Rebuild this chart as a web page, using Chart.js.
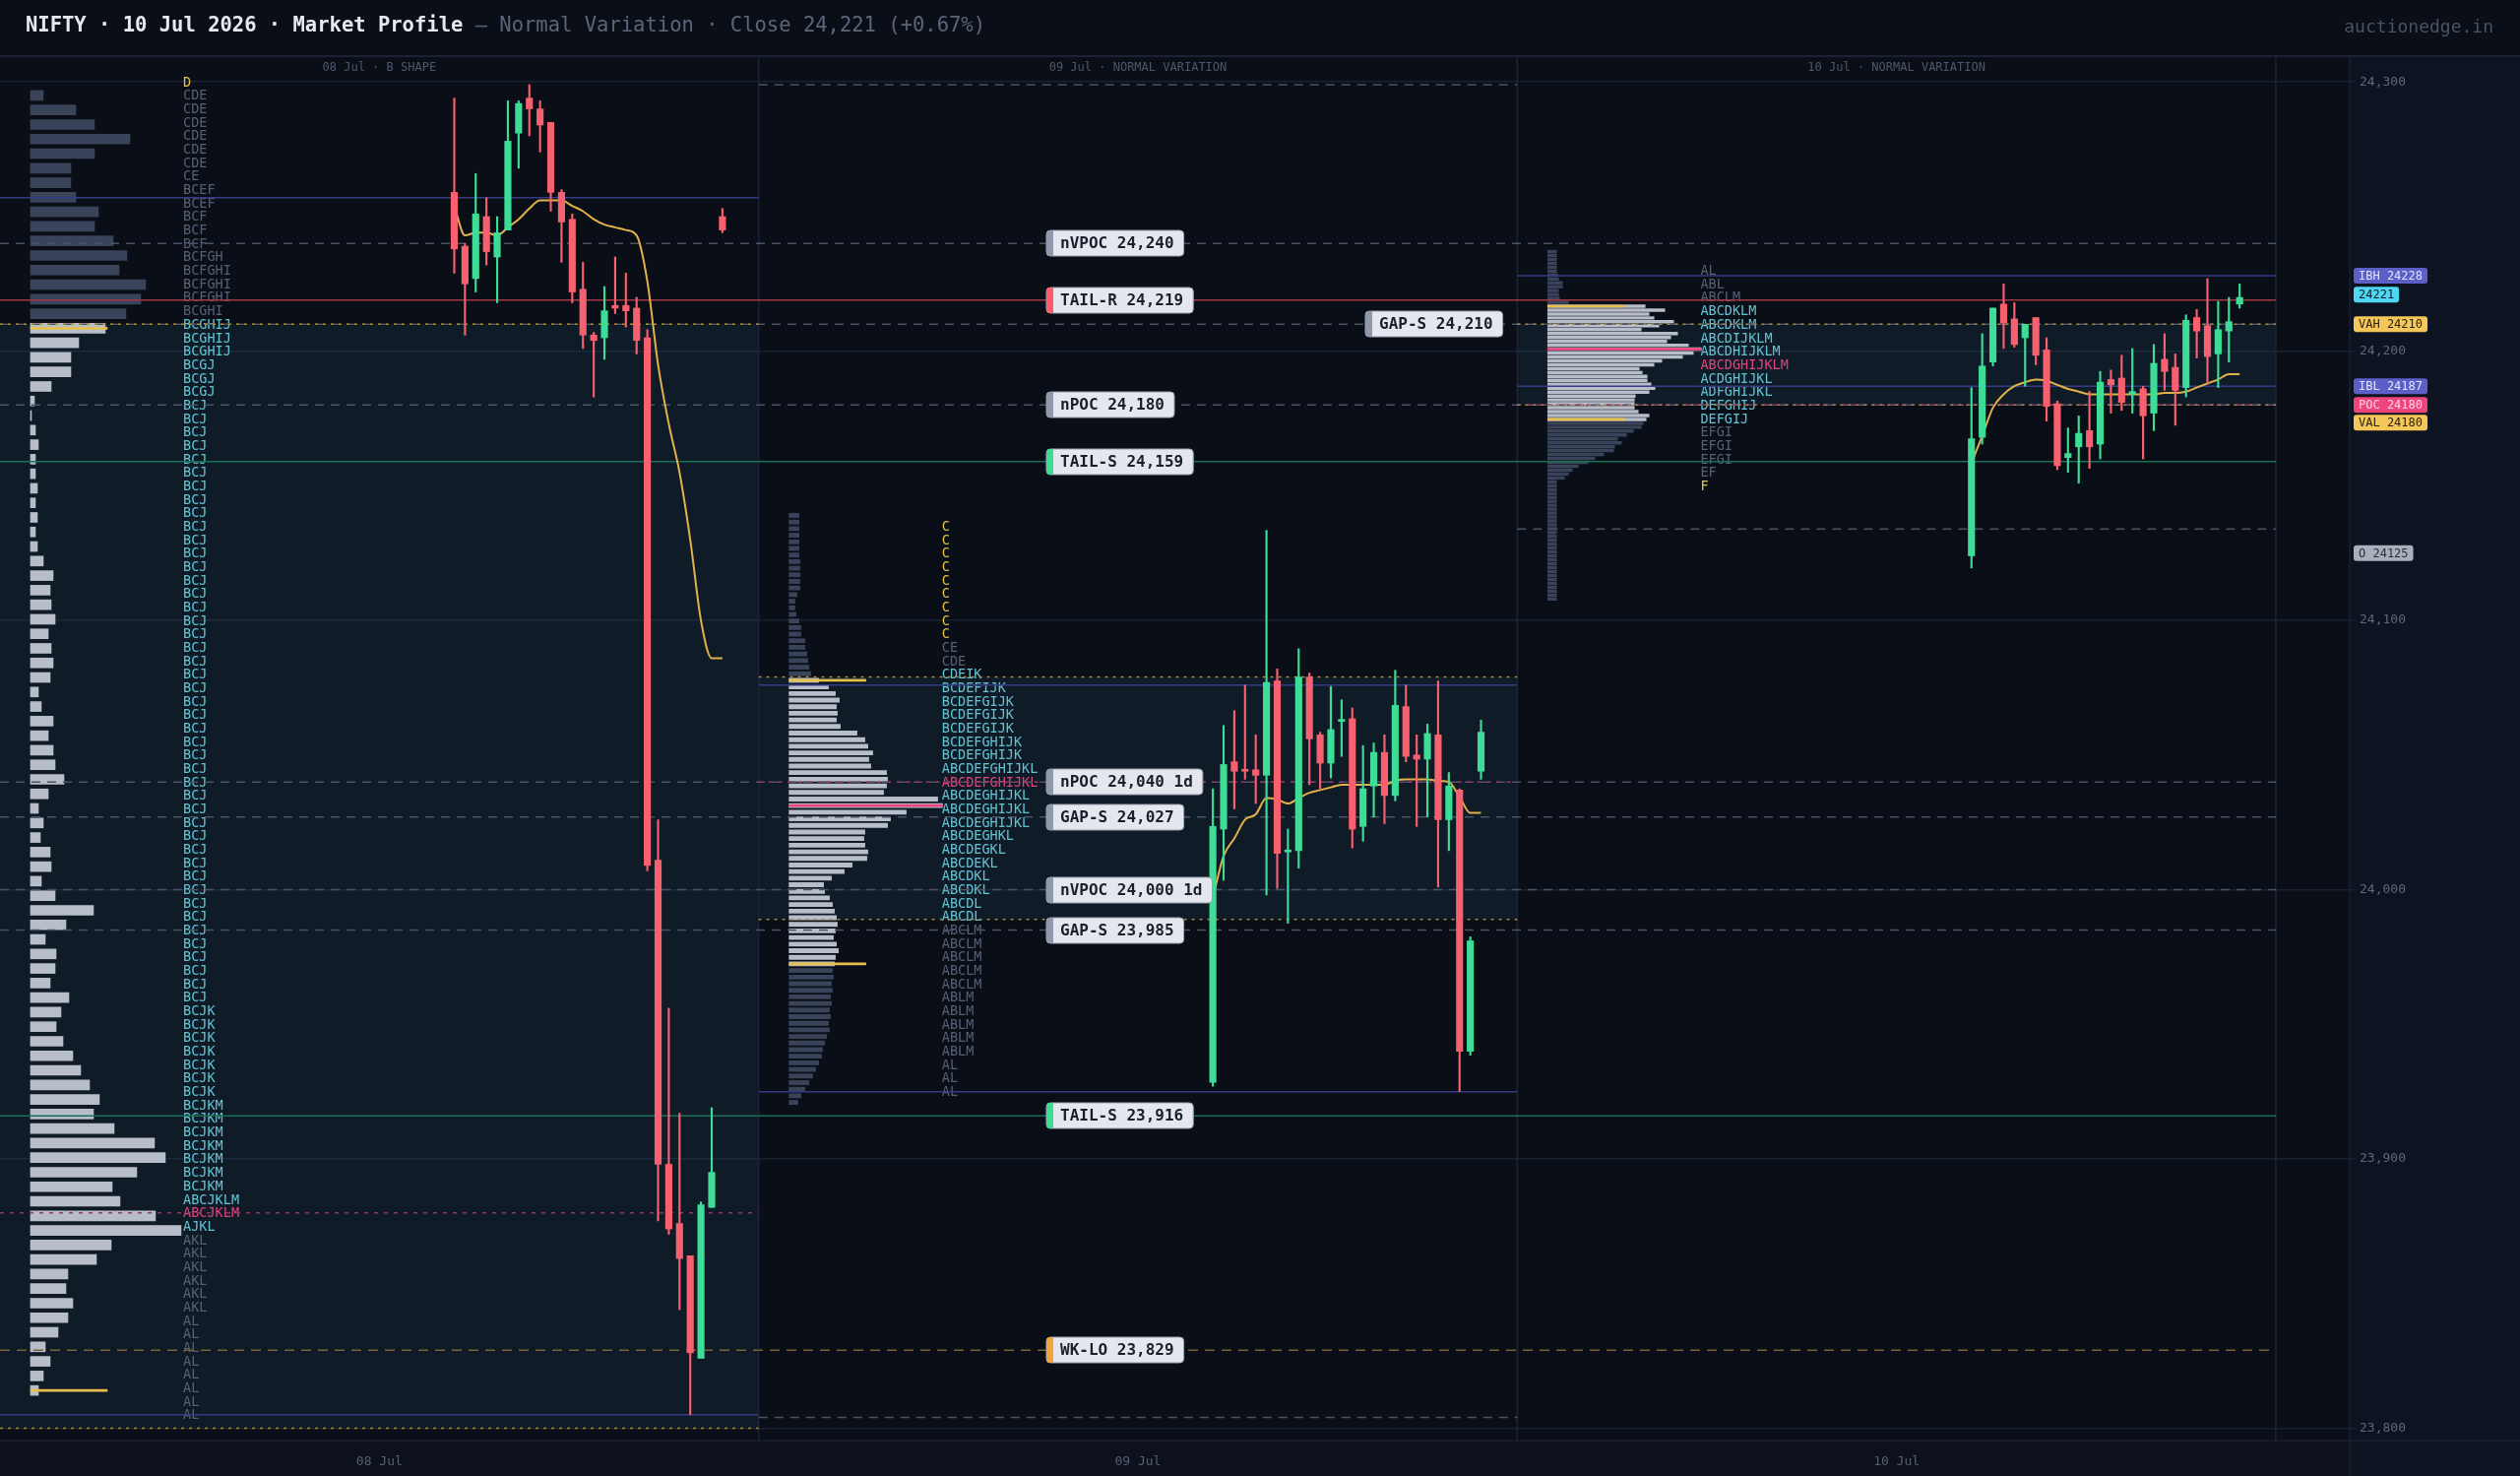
<!DOCTYPE html>
<html>
<head>
<meta charset="utf-8">
<title>NIFTY Market Profile</title>
<script src="https://cdn.jsdelivr.net/npm/chart.js@4.4.1/dist/chart.umd.min.js"></script>
<style>
  html, body { margin: 0; padding: 0; background: #0a0e17; }
  canvas { display: block; }
</style>
</head>
<body>
<canvas id="profileChart" width="2560" height="1499"></canvas>
<script>
const MONO = '"DejaVu Sans Mono", "Liberation Mono", monospace';

// ---------- data ----------
const dayLabels = ['08 Jul', '09 Jul', '10 Jul'];
const dayShapes = ['B SHAPE', 'NORMAL VARIATION', 'NORMAL VARIATION'];
const yTicks = [23800, 23900, 24000, 24100, 24200, 24300];

// TPO letter rows, 5 pts per row, top row first: [letters, repeat]
const tpoTop = [24300, 24135, 24230];
const tpo1 = [['D', 1], ['CDE', 6], ['CE', 1], ['BCEF', 2], ['BCF', 3], ['BCFGH', 1], ['BCFGHI', 3], ['BCGHI', 1],
  ['BCGHIJ', 3], ['BCGJ', 3], ['BCJ', 45], ['BCJK', 7], ['BCJKM', 7], ['ABCJKLM', 2], ['AJKL', 1], ['AKL', 6], ['AL', 8]];
const tpo2 = [['C', 9], ['CE', 1], ['CDE', 1], ['CDEIK', 1], ['BCDEFIJK', 1], ['BCDEFGIJK', 3], ['BCDEFGHIJK', 2],
  ['ABCDEFGHIJKL', 2], ['ABCDEGHIJKL', 3], ['ABCDEGHKL', 1], ['ABCDEGKL', 1], ['ABCDEKL', 1], ['ABCDKL', 2],
  ['ABCDL', 2], ['ABCLM', 5], ['ABLM', 5], ['AL', 3]];
const tpo3 = [['AL', 1], ['ABL', 1], ['ABCLM', 1], ['ABCDKLM', 2], ['ABCDIJKLM', 1], ['ABCDHIJKLM', 1],
  ['ABCDGHIJKLM', 1], ['ACDGHIJKL', 1], ['ADFGHIJKL', 1], ['DEFGHIJ', 1], ['DEFGIJ', 1], ['EFGI', 3], ['EF', 1], ['F', 1]];
const tpoPocRow = [23880, 24040, 24195];
const tpoValueArea = [[23875, 24210], [23990, 24080], [24175, 24215]];

// volume profile bins (top bin first)
const vol1 = [13, 46, 65, 101, 65, 41, 41, 46, 69, 65, 84, 98, 90, 117, 112, 97, 76, 49, 41, 41, 21, 4, 1, 5, 8,
  5, 5, 7, 5, 7, 5, 7, 13, 23, 20, 21, 25, 18, 21, 23, 20, 8, 11, 23, 18, 23, 25, 34, 18, 8, 13,
  10, 20, 21, 11, 25, 64, 36, 15, 26, 25, 20, 39, 31, 26, 33, 43, 51, 60, 70, 64,
  85, 126, 137, 108, 83, 91, 127, 153, 82, 67, 38, 36, 43, 38, 28, 15, 20, 13, 8];
const vol2 = [10, 10, 10, 10, 10, 10, 10, 11, 11, 11, 11, 11, 8, 6, 6, 7, 10, 12, 12, 16, 16, 18, 19, 20, 22,
  30, 40, 47, 51, 48, 49, 48, 52, 69, 77, 80, 85, 81, 83, 99, 100, 99, 96, 151, 156, 119, 103, 100,
  77, 76, 77, 80, 79, 64, 56, 43, 35, 36, 41,
  44, 46, 48, 49, 47, 45, 48, 50, 47, 46, 44, 45, 43, 44, 42, 43, 41, 42, 40, 41, 38, 36, 34, 33, 30, 27, 24, 20, 16, 12, 9];
const vol3 = [9, 9, 9, 9, 9, 9, 10, 11, 15, 15, 11, 11, 12, 21, 99, 119, 103, 108, 128, 113, 95, 132, 125, 121, 143,
  156, 148, 137, 116, 108, 93, 96, 101, 101, 105, 109, 103, 89, 88, 88, 88, 92, 103, 100, 97, 95, 87, 80, 71, 75,
  68, 67, 57, 48, 41, 31, 25, 21, 17, 9, 9, 9, 9, 9, 9, 9, 9, 9, 9, 9, 9, 9, 9, 9, 9, 9, 9, 9, 9, 9, 9, 9, 9, 9, 9, 9, 9, 9, 9, 9];
const volTop = [24295, 24139, 24237];
const volBottom = [23814, 23921, 24108];
const volValueBins = [[16, 89], [25, 68], [14, 43]];
const volPocBin = [null, 44, 25];

// 30-min candles
const open1 = [24259, 24239, 24227, 24250, 24235, 24245, 24281, 24294, 24290, 24285, 24259, 24249, 24223, 24206, 24205, 24217, 24217, 24216, 24205, 24011, 23898, 23876, 23864, 23826, 23882, 24250];
const high1 = [24294, 24240, 24266, 24257, 24250, 24293, 24293, 24299, 24293, 24285, 24260, 24251, 24233, 24207, 24224, 24235, 24229, 24220, 24208, 24026, 23956, 23917, 23864, 23884, 23919, 24253];
const low1 = [24229, 24206, 24222, 24232, 24218, 24245, 24268, 24280, 24274, 24252, 24233, 24218, 24201, 24183, 24197, 24214, 24209, 24199, 24007, 23877, 23872, 23844, 23805, 23826, 23882, 24244];
const close1 = [24238, 24225, 24251, 24237, 24244, 24278, 24292, 24290, 24284, 24259, 24248, 24222, 24206, 24204, 24215, 24216, 24215, 24204, 24009, 23898, 23874, 23863, 23828, 23883, 23895, 24245];

const open2 = [23928.5, 24022.5, 24047.5, 24044.5, 24044.5, 24042.5, 24077.5, 24014, 24014.5, 24079, 24057.5, 24047, 24062.5, 24063.5, 24023.5, 24038.5, 24051, 24035, 24068, 24050, 24048.5, 24057.5, 24026, 24037, 23940, 24044];
const high2 = [24037.5, 24061, 24066.5, 24076, 24057.5, 24133.5, 24082, 24022.5, 24089.5, 24080.5, 24058.5, 24075.5, 24070.5, 24067.5, 24053.5, 24054.5, 24057.5, 24081.5, 24076, 24057.5, 24061.5, 24077.5, 24043.5, 24037.5, 23982.5, 24063];
const low2 = [23927, 24003.5, 24030, 24041, 24032, 23998, 24000.5, 23987.5, 24008, 24039, 24037.5, 24041.5, 24049.5, 24015.5, 24018, 24027, 24024.5, 24033, 24047.5, 24023.5, 24027, 24001, 24014.5, 23925, 23938.5, 24041];
const close2 = [24023.5, 24046.5, 24044, 24044, 24042.5, 24077, 24013.5, 24014.5, 24079, 24056, 24047, 24059.5, 24063, 24022.5, 24037.5, 24051, 24035, 24068.5, 24049.5, 24048.5, 24058, 24026, 24038.5, 23940, 23981, 24058.5];

const open3 = [24124, 24168, 24196, 24217.5, 24212, 24205, 24212.5, 24200.5, 24180.5, 24160.5, 24164.5, 24170.5, 24165.5, 24189.5, 24190, 24184, 24186, 24177, 24197, 24194, 24186.5, 24212.5, 24209.5, 24199, 24207.5, 24217.5];
const high3 = [24186.5, 24206.5, 24216, 24225, 24218, 24210, 24212.5, 24205, 24181.5, 24171.5, 24176, 24185, 24192.5, 24193, 24198.5, 24201, 24187, 24202.5, 24206.5, 24199, 24213.5, 24215.5, 24227, 24218.5, 24220, 24225];
const low3 = [24119.5, 24165.5, 24194.5, 24201, 24201.5, 24187, 24195, 24174, 24156, 24155, 24151, 24156.5, 24160, 24177, 24178, 24177, 24160, 24170.5, 24185.5, 24172.5, 24183, 24197.5, 24188, 24186.5, 24196, 24216];
const close3 = [24167.5, 24194.5, 24216, 24210.5, 24202.5, 24210, 24198.5, 24179.5, 24157.5, 24162, 24169.5, 24164.5, 24188.5, 24187.5, 24181, 24185, 24176, 24195.5, 24192.5, 24185.5, 24211.5, 24207.5, 24198, 24208, 24211, 24220];

const vwap1 = [24254, 24243, 24244, 24244, 24243, 24246, 24249, 24253, 24256, 24256, 24256, 24254, 24252, 24249, 24247, 24246, 24245, 24243, 24226, 24195, 24173, 24155, 24130, 24100, 24086, 24086];
const vwap2 = [23997, 24012.5, 24019, 24026, 24028, 24034, 24033.5, 24032, 24034, 24036, 24037, 24038, 24039, 24039, 24039, 24039, 24039, 24040.5, 24041, 24041, 24041, 24040.5, 24040, 24034.5, 24028.5, 24028.5];
const vwap3 = [24158.5, 24168.5, 24179, 24184, 24187, 24188.5, 24189.5, 24189, 24187.5, 24186, 24185, 24184, 24184, 24184, 24184, 24184, 24184, 24184, 24184.5, 24184.5, 24185, 24186.5, 24188, 24189.5, 24191.5, 24191.5];

// per-day reference levels
const ibHigh = [24257, 24076, 24228];
const ibLow = [23805, 23925, 24187];
const vaHigh = [24210, 24079, 24210];
const vaLow = [23800, 23989, 24180];
const pocLevel = [23880, 24040, 24180];
const prevDayHigh = [null, 24299, 24134];
const prevDayLow = [null, 23804, null];

// naked / carried levels
const levelNames = ['nVPOC', 'TAIL-R', 'GAP-S', 'nPOC', 'TAIL-S', 'nPOC', 'GAP-S', 'nVPOC', 'GAP-S', 'TAIL-S', 'WK-LO'];
const levelPrices = [24240, 24219, 24210, 24180, 24159, 24040, 24027, 24000, 23985, 23916, 23829];
const levelAge = ['', '', '', '', '', '1d', '', '1d', '', '', ''];

// right axis tags
const tagText = ['IBH 24228', '24221', 'VAH 24210', 'IBL 24187', 'POC 24180', 'VAL 24180', 'O 24125'];
const tagPrice = [24228, 24221, 24210, 24187, 24180, 24180, 24125];
const tagKind = ['ib', 'close', 'va', 'ib', 'poc', 'va', 'open'];

// ---------- layout / style ----------
const X_MAX = 3.0974;
const Y_MIN = 23795.4, Y_MAX = 24309.6;
const PROFILE_X0 = 0.0402;
const LETTER_X = 0.2415;
const CANDLE_X0 = 0.5988, CANDLE_STEP = 0.01414;
const VOL_UNIT = 1 / 771;
const MARKER_LEN = 78 / 771;
const barPx = [10, 4.2, 2.8];

const levelStyle = {
  'nVPOC': { line: '#4a5366', dash: [9, 7], tab: '#8f99ae' },
  'nPOC': { line: '#4a5366', dash: [9, 7], tab: '#8f99ae' },
  'GAP-S': { line: '#4a5366', dash: [9, 7], tab: '#8f99ae' },
  'TAIL-R': { line: '#a23745', dash: [], tab: '#ff5d6c' },
  'TAIL-S': { line: '#1c6f57', dash: [], tab: '#3ddc97' },
  'WK-LO': { line: '#77623a', dash: [10, 7], tab: '#f2a33a' }
};
const labelAt = { 'GAP-S 24,210': 1.80 };
const tagStyle = {
  ib: { bg: '#5b5fc7', fg: '#e2e3ff' },
  close: { bg: '#4fd6f2', fg: '#0b1a22' },
  va: { bg: '#f5c75b', fg: '#2b2206' },
  poc: { bg: '#ee457c', fg: '#ffd6e2' },
  open: { bg: '#a9b0bd', fg: '#2a2f3a' }
};

const fmt = v => v.toLocaleString('en-US');

function expandRows(rle) {
  const out = [];
  rle.forEach(([s, n]) => { for (let i = 0; i < n; i++) out.push(s); });
  return out;
}
const tpoDays = [expandRows(tpo1), expandRows(tpo2), expandRows(tpo3)];

function hline(price, x0, x1, color, dash, width, order) {
  return { type: 'line', data: [{ x: x0, y: price }, { x: x1, y: price }], borderColor: color,
    borderDash: dash, borderWidth: width, pointRadius: 0, fill: false, order };
}

// ---------- datasets ----------
const datasets = [];

// value area shading
vaHigh.forEach((hi, d) => {
  datasets.push({ type: 'line', data: [{ x: d, y: hi }, { x: d + 1, y: hi }], borderWidth: 0, pointRadius: 0,
    fill: '+1', backgroundColor: 'rgba(40, 82, 112, 0.2)', order: 100 });
  datasets.push({ type: 'line', data: [{ x: d, y: vaLow[d] }, { x: d + 1, y: vaLow[d] }], borderWidth: 0,
    pointRadius: 0, fill: false, order: 100 });
});

// day separators
[1, 2, 3].forEach(x => {
  datasets.push({ type: 'line', data: [{ x, y: Y_MIN }, { x, y: Y_MAX }], borderColor: '#1d2437',
    borderWidth: 1.5, pointRadius: 0, fill: false, order: 95 });
});

// volume profile bars
[vol1, vol2, vol3].forEach((v, d) => {
  const step = (volTop[d] - volBottom[d]) / (v.length - 1);
  const x0 = d + PROFILE_X0;
  const [vaFrom, vaTo] = volValueBins[d];
  datasets.push({
    type: 'bar', indexAxis: 'y', grouped: false, barThickness: barPx[d], borderWidth: 0, order: 80,
    data: v.map((w, i) => ({ y: volTop[d] - i * step, x: [x0, x0 + w * VOL_UNIT] })),
    backgroundColor: v.map((w, i) => (i >= vaFrom && i <= vaTo) ? '#b8bec9' : '#39435a')
  });
  datasets.push({
    type: 'bar', indexAxis: 'y', grouped: false, barThickness: 2, borderWidth: 0, order: 79,
    data: [vaFrom, vaTo].map(i => ({ y: volTop[d] - i * step, x: [x0, x0 + MARKER_LEN] })),
    backgroundColor: '#e6bf4c'
  });
  if (volPocBin[d] !== null) {
    const i = volPocBin[d];
    datasets.push({
      type: 'bar', indexAxis: 'y', grouped: false, barThickness: 2, borderWidth: 0, order: 79,
      data: [{ y: volTop[d] - i * step, x: [x0, x0 + v[i] * VOL_UNIT] }],
      backgroundColor: '#e8457d'
    });
  }
});

// carried levels across the sessions
levelPrices.forEach((p, i) => {
  const st = levelStyle[levelNames[i]];
  datasets.push(hline(p, 0, 3, st.line, st.dash, 1.5, 70));
});

// per-day levels
for (let d = 0; d < 3; d++) {
  datasets.push(hline(ibHigh[d], d, d + 1, '#363b85', [], 1.5, 72));
  datasets.push(hline(ibLow[d], d, d + 1, '#363b85', [], 1.5, 72));
  datasets.push(hline(vaHigh[d], d, d + 1, '#a8883a', [3, 5], 1.5, 69));
  datasets.push(hline(vaLow[d], d, d + 1, '#a8883a', [3, 5], 1.5, 69));
  datasets.push(hline(pocLevel[d], d, d + 1, '#9a3366', [4, 6], 1.5, 69));
  if (prevDayHigh[d] !== null) datasets.push(hline(prevDayHigh[d], d, d + 1, '#4a5366', [9, 7], 1.5, 71));
  if (prevDayLow[d] !== null) datasets.push(hline(prevDayLow[d], d, d + 1, '#4a5366', [9, 7], 1.5, 71));
}

// candles + vwap
const candleDays = [
  { o: open1, h: high1, l: low1, c: close1, vwap: vwap1 },
  { o: open2, h: high2, l: low2, c: close2, vwap: vwap2 },
  { o: open3, h: high3, l: low3, c: close3, vwap: vwap3 }
];
const UP = '#3ddc97', DOWN = '#f7606f';
candleDays.forEach((cd, d) => {
  const xs = cd.o.map((_, i) => d + CANDLE_X0 + i * CANDLE_STEP);
  const cols = cd.o.map((o, i) => cd.c[i] >= o ? UP : DOWN);
  datasets.push({ type: 'line', data: cd.vwap.map((v, i) => ({ x: xs[i], y: v })), borderColor: '#e2b148',
    borderWidth: 2, pointRadius: 0, fill: false, cubicInterpolationMode: 'monotone', order: 20 });
  datasets.push({ type: 'bar', grouped: false, barThickness: 1.5, borderWidth: 0, order: 11,
    data: xs.map((x, i) => ({ x, y: [cd.l[i], cd.h[i]] })), backgroundColor: cols });
  datasets.push({ type: 'bar', grouped: false, barThickness: 6.5, borderWidth: 0, minBarLength: 2, order: 10,
    data: xs.map((x, i) => ({ x, y: [cd.o[i], cd.c[i]] })), backgroundColor: cols });
});

// ---------- plugins ----------
const panelPlugin = {
  id: 'panels',
  beforeDraw(chart) {
    const { ctx, chartArea: a, width, height } = chart;
    ctx.save();
    ctx.fillStyle = '#0a0e17';
    ctx.fillRect(0, 0, width, height);
    ctx.fillStyle = '#0e1321';
    ctx.fillRect(a.right, a.top, width - a.right, height - a.top);
    ctx.fillStyle = '#0c111b';
    ctx.fillRect(0, a.bottom, a.right, height - a.bottom);
    ctx.strokeStyle = '#1a2030';
    ctx.lineWidth = 1.5;
    ctx.beginPath();
    ctx.moveTo(0, a.bottom); ctx.lineTo(width, a.bottom);
    ctx.moveTo(a.right, a.top); ctx.lineTo(a.right, height);
    ctx.stroke();
    ctx.restore();
  }
};

function letterColor(txt, price, d) {
  if (price === tpoPocRow[d]) return '#e0457b';
  if (txt.length === 1) return '#e3c54a';
  const [lo, hi] = tpoValueArea[d];
  if (price >= lo && price <= hi) return '#62c3d3';
  return '#566075';
}

const tpoPlugin = {
  id: 'tpoLetters',
  beforeDatasetsDraw(chart) {
    const { ctx, scales: { x, y } } = chart;
    ctx.save();
    ctx.font = `13.5px ${MONO}`;
    ctx.textBaseline = 'middle';
    ctx.textAlign = 'left';
    tpoDays.forEach((rows, d) => {
      const px = x.getPixelForValue(d + LETTER_X);
      rows.forEach((txt, r) => {
        const p = tpoTop[d] - r * 5;
        ctx.fillStyle = letterColor(txt, p, d);
        ctx.fillText(txt, px, y.getPixelForValue(p) + 1);
      });
    });
    ctx.restore();
  }
};

const overlayPlugin = {
  id: 'overlay',
  afterDraw(chart) {
    const { ctx, chartArea: a, width, scales: { x, y } } = chart;
    ctx.save();

    // header rule
    ctx.strokeStyle = '#1c2234';
    ctx.lineWidth = 2;
    ctx.beginPath(); ctx.moveTo(0, a.top); ctx.lineTo(width, a.top); ctx.stroke();

    // title
    ctx.textBaseline = 'middle';
    ctx.textAlign = 'left';
    const t1 = 'NIFTY · 10 Jul 2026 · Market Profile';
    const t2 = ' — Normal Variation · Close 24,221 (+0.67%)';
    ctx.font = `bold 20.5px ${MONO}`;
    ctx.fillStyle = '#e6e9f0';
    ctx.fillText(t1, 26, 27);
    const w1 = ctx.measureText(t1).width;
    ctx.font = `20.5px ${MONO}`;
    ctx.fillStyle = '#5d6679';
    ctx.fillText(t2, 26 + w1, 27);

    ctx.textAlign = 'right';
    ctx.font = `18px ${MONO}`;
    ctx.fillStyle = '#4a5366';
    ctx.fillText('auctionedge.in', 2533, 28);

    // session headers
    ctx.textAlign = 'center';
    ctx.font = `12px ${MONO}`;
    ctx.fillStyle = '#4f586b';
    dayLabels.forEach((lab, d) => {
      ctx.fillText(`${lab} · ${dayShapes[d]}`, x.getPixelForValue(d + 0.5), 69);
    });

    // level labels
    ctx.textAlign = 'left';
    ctx.font = `bold 16px ${MONO}`;
    levelPrices.forEach((p, i) => {
      const text = `${levelNames[i]} ${fmt(p)}${levelAge[i] ? ' ' + levelAge[i] : ''}`;
      const lx = Math.round(x.getPixelForValue(labelAt[text] || 1.38));
      const ly = Math.round(y.getPixelForValue(p));
      const w = ctx.measureText(text).width + 24;
      const h = 26;
      ctx.save();
      ctx.beginPath();
      ctx.roundRect(lx, ly - h / 2, w, h, 4);
      ctx.fillStyle = '#e4e7ee';
      ctx.fill();
      ctx.strokeStyle = '#9aa2b3';
      ctx.lineWidth = 1;
      ctx.stroke();
      ctx.clip();
      ctx.fillStyle = levelStyle[levelNames[i]].tab;
      ctx.fillRect(lx, ly - h / 2, 7, h);
      ctx.restore();
      ctx.fillStyle = '#1a1f2c';
      ctx.fillText(text, lx + 14, ly + 1);
    });

    // right axis tags
    ctx.font = `12px ${MONO}`;
    const order = tagPrice.map((p, i) => i).sort((i, j) => tagPrice[j] - tagPrice[i]);
    let lastY = -Infinity;
    order.forEach(i => {
      let ty = y.getPixelForValue(tagPrice[i]);
      if (ty < lastY + 18) ty = lastY + 18;
      lastY = ty;
      const st = tagStyle[tagKind[i]];
      const w = ctx.measureText(tagText[i]).width + 10;
      ctx.beginPath();
      ctx.roundRect(a.right + 4, ty - 8, w, 16, 3);
      ctx.fillStyle = st.bg;
      ctx.fill();
      ctx.fillStyle = st.fg;
      ctx.fillText(tagText[i], a.right + 9, ty + 1);
    });

    ctx.restore();
  }
};

// ---------- chart ----------
new Chart(document.getElementById('profileChart'), {
  type: 'line',
  data: { datasets },
  options: {
    responsive: false,
    animation: false,
    devicePixelRatio: 1,
    events: [],
    layout: { padding: { top: 57, left: 0, right: 0, bottom: 0 } },
    plugins: {
      legend: { display: false },
      tooltip: { enabled: false },
      filler: { drawTime: 'beforeDatasetsDraw' }
    },
    scales: {
      x: {
        type: 'linear', min: 0, max: X_MAX, offset: false,
        grid: { display: false, offset: false },
        border: { display: false },
        afterBuildTicks: s => { s.ticks = [0.5, 1.5, 2.5].map(v => ({ value: v })); },
        afterFit: s => { s.height = 36; },
        ticks: {
          autoSkip: false, maxRotation: 0, padding: 6,
          color: '#566074', font: { family: MONO, size: 13 },
          callback: v => dayLabels[Math.floor(v)]
        }
      },
      y: {
        type: 'linear', position: 'right', min: Y_MIN, max: Y_MAX, offset: false, beginAtZero: false,
        grid: { color: '#1a2132', lineWidth: 1.5, tickLength: 6, offset: false },
        border: { display: false },
        afterBuildTicks: s => { s.ticks = yTicks.map(v => ({ value: v })); },
        afterFit: s => { s.width = 173; },
        ticks: { padding: 4, color: '#5f687a', font: { family: MONO, size: 13 }, callback: v => fmt(v) }
      }
    }
  },
  plugins: [panelPlugin, tpoPlugin, overlayPlugin]
});
</script>
</body>
</html>
